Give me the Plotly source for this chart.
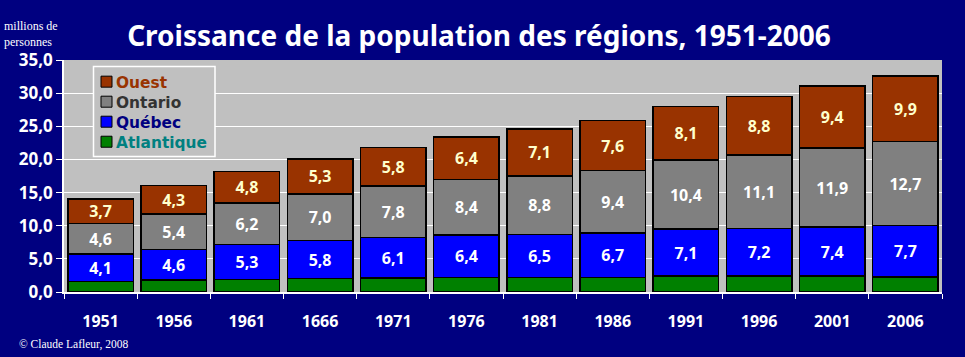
import plotly.graph_objects as go

years = ["1951", "1956", "1961", "1666", "1971", "1976", "1981", "1986", "1991", "1996", "2001", "2006"]
atlantique = [1.6, 1.8, 1.9, 2.0, 2.1, 2.2, 2.2, 2.2, 2.4, 2.4, 2.4, 2.3]
quebec = [4.1, 4.6, 5.3, 5.8, 6.1, 6.4, 6.5, 6.7, 7.1, 7.2, 7.4, 7.7]
ontario = [4.6, 5.4, 6.2, 7.0, 7.8, 8.4, 8.8, 9.4, 10.4, 11.1, 11.9, 12.7]
ouest = [3.7, 4.3, 4.8, 5.3, 5.8, 6.4, 7.1, 7.6, 8.1, 8.8, 9.4, 9.9]
y_ticks = [0, 5, 10, 15, 20, 25, 30, 35]

NAVY = "#000080"
FONT = "Noto Sans"
W, H = 965, 357
ML, MR, MT, MB = 64, 23, 60, 65
PW, PH = W - ML - MR, H - MT - MB


def px(x):
    return (x - ML) / PW


def py(y):
    return (H - MB - y) / PH


series = [
    ("Atlantique", atlantique, "#008000", "#008080", None),
    ("Québec", quebec, "#0000FF", "#000080", "white"),
    ("Ontario", ontario, "#808080", "#333333", "white"),
    ("Ouest", ouest, "#993300", "#993300", "#FFFFCC"),
]

fig = go.Figure()
for name, vals, col, txtcol, labcol in series:
    if labcol:
        kw = dict(
            texttemplate="%{y:.1f}",
            textposition="inside",
            insidetextanchor="middle",
            textangle=0,
            insidetextfont=dict(family=FONT, size=16, color=labcol, weight="bold"),
        )
    else:
        kw = dict(textposition="none")
    fig.add_trace(go.Bar(
        x=years, y=vals, name=name,
        marker=dict(color=col, line=dict(color="black", width=1.5)),
        hoverinfo="skip", showlegend=False,
        **kw,
    ))

# legend box drawn manually
LEG_FS = 15.4
spacing = 1.3 * LEG_FS
center = 111.7
shapes = [dict(type="rect", xref="paper", yref="paper",
               x0=px(93.5), x1=px(215), y0=py(66.5), y1=py(156.5),
               line=dict(color="white", width=1.5), fillcolor="#C0C0C0", layer="above")]
lines = []
for i, (name, vals, col, txtcol, labcol) in enumerate(reversed(series)):
    cy = center + (i - 1.5) * spacing
    shapes.append(dict(type="rect", xref="paper", yref="paper",
                       x0=px(101), x1=px(112), y0=py(cy - 5.5), y1=py(cy + 5.5),
                       line=dict(color="black", width=1), fillcolor=col, layer="above"))
    lines.append(f"<span style='color:{txtcol}'>{name}</span>")

annotations = [dict(text="<br>".join(lines), xref="paper", yref="paper",
                    x=px(114), y=py(center + 1), xanchor="left", yanchor="middle",
                    align="left", showarrow=False,
                    font=dict(family="DejaVu Sans", size=LEG_FS, color="#333333", weight="bold"))]

annotations.append(dict(text="millions de<br>personnes", xref="paper", yref="paper",
                        x=px(2), y=py(17), xanchor="left", yanchor="top",
                        align="left", showarrow=False,
                        font=dict(family="Liberation Serif", size=12, color="white")))
annotations.append(dict(text="© Claude Lafleur, 2008", xref="paper", yref="paper",
                        x=px(17), y=py(344), xanchor="left", yanchor="middle",
                        showarrow=False,
                        font=dict(family="Liberation Serif", size=11.5, color="white")))

fig.update_layout(
    width=W, height=H,
    barmode="stack", bargap=0.106,
    paper_bgcolor=NAVY, plot_bgcolor="#C0C0C0",
    separators=", ",
    margin=dict(l=ML, r=MR, t=MT, b=MB),
    uniformtext=dict(minsize=16, mode="show"),
    title=dict(
        text="Croissance de la population des régions, 1951-2006",
        x=479 / W, xanchor="center", xref="container",
        y=1 - 36 / H, yanchor="middle", yref="container",
        font=dict(family=FONT, size=28, color="white", weight="bold"),
    ),
    showlegend=False,
    xaxis=dict(
        type="category",
        showgrid=False,
        showline=True, linecolor="white", linewidth=1.5,
        ticks="outside", tickson="boundaries", ticklen=5, tickcolor="white",
        tickfont=dict(family=FONT, size=16, color="white", weight="bold"),
        ticklabelstandoff=14,
    ),
    yaxis=dict(
        range=[0, 35], tickvals=y_ticks, tickformat=".1f",
        showgrid=True, gridcolor="white", gridwidth=1,
        showline=True, linecolor="white", linewidth=1.5,
        ticks="outside", ticklen=6, tickcolor="white",
        tickfont=dict(family=FONT, size=17, color="white", weight="bold"),
        zeroline=False,
    ),
    shapes=shapes,
    annotations=annotations,
)

fig.write_html("out.html", config={"displayModeBar": False},
               post_script="document.body.style.margin='0';")
